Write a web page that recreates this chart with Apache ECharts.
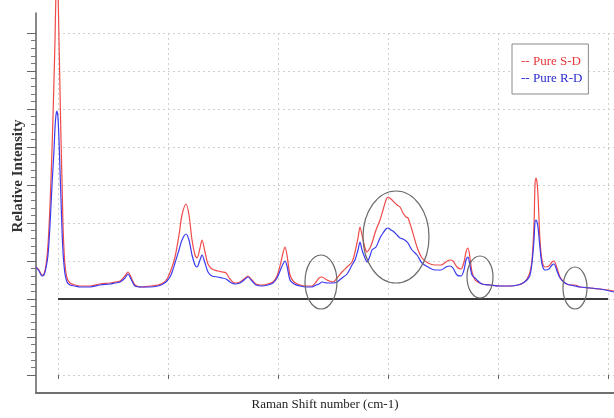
<!DOCTYPE html>
<html>
<head>
<meta charset="utf-8">
<script src="https://cdn.jsdelivr.net/npm/echarts@6/dist/echarts.min.js"></script>
<style>html,body{margin:0;padding:0;background:#fff;}#c{width:614px;height:418px;}</style>
</head>
<body>
<div id="c"></div>
<script>
// Raman shift (cm-1)
const ramanShift = [440,455,470,480,490,500,510,520,530,535,
540,545,550,555,560,565,570,575,580,585,
595,610,635,660,710,760,810,835,860,885,
900,915,935,970,1010,1050,1075,1095,1115,1135,
1155,1170,1190,1205,1220,1235,1245,1260,1270,1285,
1300,1320,1350,1370,1390,1410,1435,1460,1480,1500,
1520,1540,1570,1600,1625,1645,1660,1675,1685,1695,
1710,1730,1760,1790,1820,1840,1855,1870,1895,1925,
1945,1970,1995,2020,2035,2050,2060,2070,2085,2095,
2110,2120,2140,2160,2175,2190,2200,2215,2230,2245,
2260,2275,2290,2300,2320,2345,2370,2400,2435,2465,
2490,2510,2525,2545,2565,2580,2590,2600,2610,2620,
2635,2650,2670,2710,2760,2810,2850,2875,2895,2910,
2920,2930,2935,2940,2945,2950,2960,2970,2985,3005,
3020,3030,3045,3060,3085,3110,3135,3160,3210,3260,
3330];
// Pure S-D relative intensity
const pureSD = [216,210,200,202,220,260,340,450,590,670,
770,830,770,670,570,470,390,300,250,220,
194,184,180,178,178,182,184,186,188,198,
206,196,180,176,178,180,184,192,210,236,
280,320,342,320,270,240,234,254,270,246,
222,212,208,206,204,192,184,186,192,198,
190,182,180,182,186,198,218,244,256,240,
200,186,180,178,178,186,194,196,190,186,
194,206,216,226,246,274,296,280,254,246,
254,264,290,310,330,350,356,352,346,340,
336,324,316,314,290,256,234,224,220,220,
226,230,228,216,212,226,246,254,234,206,
190,186,182,180,178,178,180,184,192,206,
230,300,380,394,386,360,270,230,216,218,
226,228,214,196,184,180,180,176,174,172,
168];
// Pure R-D relative intensity
const pureRD = [216,208,198,200,214,240,300,380,450,494,
520,528,514,470,410,350,290,246,220,202,
186,180,178,176,176,180,182,184,186,194,
202,192,178,176,176,178,182,188,200,224,
250,270,282,270,240,220,216,230,240,224,
206,198,196,194,192,186,182,184,190,196,
188,180,178,180,184,194,208,222,228,218,
190,182,178,176,176,180,182,186,184,184,
186,194,202,220,230,250,266,250,234,226,
238,250,256,274,284,292,294,290,286,280,
274,272,268,264,250,240,224,216,210,210,
216,218,214,200,198,210,230,236,218,200,
194,188,182,180,178,178,180,184,190,200,
224,270,306,310,306,296,254,222,210,212,
220,222,208,194,184,180,178,176,174,172,
166];
const seriesNames = ['Pure S-D', 'Pure R-D'];
const baselineLevel = 152;
const baselineRange = [550, 3300];
// highlighted regions: [shift, intensity] centres
const highlightCentres = [[1865,186],[2240,276],[2660,196],[3135,174]];
const highlightRadii = [[16,27],[33,46],[13,21],[12,21]];

const chart = echarts.init(document.getElementById('c'), null, {renderer:'canvas'});
const serif = 'Liberation Serif, Times New Roman, serif';
const gridLine = {show:true, lineStyle:{color:'#cfcfcf', width:1, type:[2,3]}};
const option = {
  animation:false,
  backgroundColor:'#fff',
  grid:[
    {left:58, right:0, top:33, bottom:43},
    {left:36, right:0, top:13, bottom:25}
  ],
  xAxis:[
    {type:'value', gridIndex:0, min:550, max:3330, interval:550, offset:18,
     axisLine:{show:false}, axisTick:{show:true, inside:false, length:4, lineStyle:{color:'#666'}},
     axisLabel:{show:false}, splitLine:gridLine},
    {type:'value', gridIndex:1, min:440, max:3330,
     axisLine:{show:true, onZero:false, lineStyle:{color:'#707070', width:2}},
     axisTick:{show:false}, axisLabel:{show:false}, splitLine:{show:false},
     name:'Raman Shift number (cm-1)', nameLocation:'middle', nameGap:5,
     nameTextStyle:{fontFamily:serif, fontSize:13, color:'#222', verticalAlign:'top'}}
  ],
  yAxis:[
    {type:'value', gridIndex:0, min:0, max:684, interval:76, offset:22,
     axisLine:{show:false}, axisTick:{show:true, inside:false, length:9, lineStyle:{color:'#666'}},
     minorTick:{show:true, splitNumber:5, length:5, lineStyle:{color:'#777'}},
     axisLabel:{show:false}, splitLine:gridLine},
    {type:'value', gridIndex:1, min:-36, max:724,
     axisLine:{show:true, onZero:false, lineStyle:{color:'#606060', width:1.5}},
     axisTick:{show:false}, axisLabel:{show:false}, splitLine:{show:false}}
  ],
  legend:{
    orient:'vertical', left:512, top:44, padding:[11,6,9,4], itemGap:3,
    itemWidth:0, itemHeight:14,
    borderColor:'#8a8a8a', borderWidth:1, backgroundColor:'#fff',
    formatter: n => '-- ' + n,
    textStyle:{fontFamily:serif, fontSize:13, padding:[0,0,0,0]},
    data:[
      {name:seriesNames[0], icon:'none', textStyle:{color:'#e8383c'}},
      {name:seriesNames[1], icon:'none', textStyle:{color:'#2b2bd0'}}
    ]
  },
  series:[
    {name:seriesNames[0], type:'line', xAxisIndex:1, yAxisIndex:1, clip:false,
     showSymbol:false, symbol:'none', smooth:0.3,
     lineStyle:{color:'#f04a4a', width:1.2}, itemStyle:{color:'#e8383c'},
     data: ramanShift.map((x,i)=>[x, pureSD[i]]),
     markLine:{silent:true, symbol:['none','none'], label:{show:false},
       lineStyle:{color:'#3a3a3a', width:2, type:'solid'},
       data:[[{coord:[baselineRange[0], baselineLevel]},{coord:[baselineRange[1], baselineLevel]}]]}
    },
    {name:seriesNames[1], type:'line', xAxisIndex:1, yAxisIndex:1, clip:false,
     showSymbol:false, symbol:'none', smooth:0.3,
     lineStyle:{color:'#3b3bf0', width:1.2}, itemStyle:{color:'#2b2bd0'},
     data: ramanShift.map((x,i)=>[x, pureRD[i]])
    }
  ]
};
chart.setOption(option);

const graphics = highlightCentres.map((c,i)=>{
  const p = chart.convertToPixel({gridIndex:1}, c);
  return {type:'ellipse', shape:{cx:p[0], cy:p[1], rx:highlightRadii[i][0], ry:highlightRadii[i][1]},
    style:{fill:null, stroke:'#6a6a6a', lineWidth:1.2}, z:100, silent:true};
});
graphics.push({type:'text', x:18, y:176, rotation:Math.PI/2,
  style:{text:'Relative Intensity', font:'bold 15px ' + serif, fill:'#333', textAlign:'center', textVerticalAlign:'middle'}, z:100});
chart.setOption({graphic:graphics});
</script>
</body>
</html>
